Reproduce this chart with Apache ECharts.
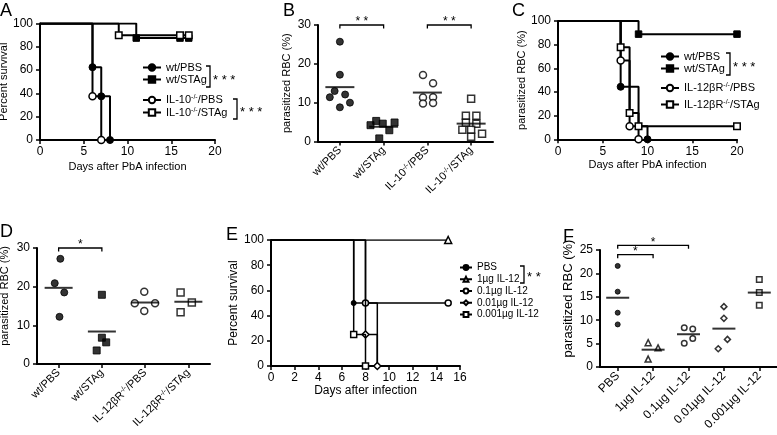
<!DOCTYPE html>
<html><head><meta charset="utf-8">
<script src="https://cdn.jsdelivr.net/npm/echarts@6/dist/echarts.min.js"></script>
<style>html,body{margin:0;padding:0;background:#fff}#c{width:777px;height:435px}</style>
</head><body><div id="c"></div>
<script>
// ===== DATA =====
// Panel A: survival (days / percent)
const aNames = ['wt/PBS', 'wt/STAg', 'IL-10-/-/PBS', 'IL-10-/-/STAg'];
const aDays = [[0, 6, 7, 8], [0, 11, 16, 17], [0, 6, 7], [0, 9, 16, 17]];
const aSurv = [[100, 62.5, 37.5, 0], [100, 87.5, 87.5, 87.5], [100, 37.5, 0], [100, 90, 90, 90]];
const aTicksX = [0, 20, 5];
// Panel B: parasitized RBC (%)
const bCats = ['wt/PBS', 'wt/STAg', 'IL-10-/-/PBS', 'IL-10-/-/STAg'];
const bVals = [
  [25.7, 17.2, 13.0, 12.1, 11.4, 10.0, 8.8],
  [5.3, 4.2, 4.6, 2.9, 4.9, 0.8],
  [17.1, 15.0, 11.3, 11.4, 9.8, 9.9],
  [11.0, 6.6, 6.6, 4.8, 4.6, 3.0, 3.0, 2.0, 1.2]
];
const bMeans = [14.0, 3.8, 12.6, 4.6];
const bJitter = [
  [0, 0, -0.12, 0.12, -0.23, 0.23, 0],
  [-0.17, -0.3, -0.02, 0.13, 0.25, -0.1],
  [-0.1, 0.13, -0.1, 0.13, -0.1, 0.13],
  [0, -0.12, 0.12, -0.12, 0.12, -0.2, 0, 0.25, 0]
];
const bBrackets = [[0, 1, 30, '* *'], [2, 3, 30, '* *']];
// Panel C
const cNames = ['wt/PBS', 'wt/STAg', 'IL-12βR-/-/PBS', 'IL-12βR-/-/STAg'];
const cDays = [[0, 7, 9, 10], [0, 9, 20], [0, 7, 8, 9], [0, 7, 8, 9, 20]];
const cVals = [[100, 44.4, 11.1, 0], [100, 88.9, 88.9], [100, 66.7, 11.1, 0], [100, 77.8, 22.2, 11.1, 11.1]];
// Panel D
const dCats = ['wt/PBS', 'wt/STAg', 'IL-12βR-/-/PBS', 'IL-12βR-/-/STAg'];
const dVals = [[27.2, 20.9, 18.5, 12.2], [17.9, 6.8, 5.6, 3.5], [18.7, 15.7, 15.7, 13.7], [18.5, 15.9, 13.4]];
const dMeans = [19.7, 8.4, 15.9, 16.1];
const dJitter = [[0.04, -0.09, 0.13, 0.02], [0, 0, 0.1, -0.12], [-0.02, -0.24, 0.23, -0.02], [-0.18, 0.08, -0.18]];
const dBrackets = [[0, 1, 30, '*']];
// Panel E
const eNames = ['PBS', '1µg IL-12', '0.1µg IL-12', '0.01µg IL-12', '0.001µg IL-12'];
const eDays = [[0, 7, 9], [0, 15], [0, 8, 15], [0, 8, 9], [0, 7, 8]];
const eVals = [[100, 50, 0], [100, 100], [100, 50, 50], [100, 25, 0], [100, 25, 0]];
// Panel F
const fCats = ['PBS', '1µg IL-12', '0.1µg IL-12', '0.01µg IL-12', '0.001µg IL-12'];
const fVals = [[21.6, 16.1, 11.6, 9.1], [5.2, 4.1, 1.7], [8.4, 8.1, 5.1, 6.1], [12.9, 10.4, 5.9, 3.9], [18.7, 15.9, 13.2]];
const fMeans = [14.8, 3.7, 7.0, 8.2, 15.9];
const fJitter = [[0, 0, 0, 0], [-0.14, 0.14, -0.14], [-0.12, 0.12, -0.12, 0.12], [0, 0, 0.1, -0.16], [0, 0, 0]];
const fBrackets = [[0, 1, 24, '*'], [0, 2, 26, '*']];

// ===== STYLE / HELPERS =====
const FONT = 'Liberation Sans, Arial, Helvetica, sans-serif';
const BLK = '#000';
function rt(s) {
  const parts = s.split('-/-');
  let out = '{t|' + parts[0] + '}';
  for (let i = 1; i < parts.length; i++) out += '{s|-/-}' + (parts[i] ? '{t|' + parts[i] + '}' : '');
  return out;
}
function rich(fs) {
  return {
    t: { fontSize: fs, fontFamily: FONT, color: BLK, lineHeight: fs + 1 },
    s: { fontSize: Math.round(fs * 0.62), fontFamily: FONT, color: BLK, lineHeight: Math.round(fs * 0.7), verticalAlign: 'top' }
  };
}
const axLine = { show: true, onZero: false, lineStyle: { color: BLK, width: 2 } };
const axTick = { show: true, length: 4, lineStyle: { color: BLK, width: 1.5 } };
function valX(grid, min, max, interval, name, gap, fs, nfs) {
  return {
    type: 'value', gridIndex: grid, min: min, max: max, interval: interval,
    axisLine: axLine, axisTick: axTick, splitLine: { show: false },
    axisLabel: { color: BLK, fontFamily: FONT, fontSize: fs, margin: 6 },
    name: name, nameLocation: 'middle', nameGap: gap,
    nameTextStyle: { color: BLK, fontFamily: FONT, fontSize: nfs || fs }
  };
}
function valY(grid, min, max, interval, name, gap, fs, nfs, pad) {
  return {
    type: 'value', gridIndex: grid, min: min, max: max, interval: interval,
    axisLine: axLine, axisTick: axTick, splitLine: { show: false },
    axisLabel: { color: BLK, fontFamily: FONT, fontSize: fs, margin: 7 },
    name: name, nameLocation: 'middle', nameGap: gap, nameRotate: 90,
    nameTextStyle: { color: BLK, fontFamily: FONT, fontSize: nfs || fs, padding: [0, 0, 0, pad || 0] }
  };
}
function catX(grid, cats, fs) {
  return {
    type: 'category', gridIndex: grid, data: cats, boundaryGap: true,
    axisLine: axLine, axisTick: Object.assign({ alignWithLabel: true, interval: 0 }, axTick),
    axisLabel: { interval: 0, rotate: 45, margin: 7, formatter: v => rt(v), rich: rich(fs) }
  };
}
function hidX(grid, n) { return { type: 'value', gridIndex: grid, min: -0.5, max: n - 0.5, show: false }; }

const openStyle = { color: '#fff', borderColor: BLK, borderWidth: 1.5 };
const fillStyle = { color: BLK, borderColor: BLK, borderWidth: 1 };

function survSeries(prefix, names, days, vals, xi, yi, syms, opens, size, lw) {
  return names.map((n, k) => ({
    type: 'line', name: prefix + n, xAxisIndex: xi, yAxisIndex: yi, step: 'end',
    symbol: syms[k], symbolSize: size[k], showSymbol: true, z: 2 + k,
    lineStyle: { color: BLK, width: lw }, itemStyle: opens[k] ? openStyle : fillStyle,
    data: days[k].map((d, i) => i === 0 ? { value: [d, vals[k][i]], symbol: 'none' } : { value: [d, vals[k][i]] })
  }));
}
function dotSeries(vals, jit, xi, yi, syms, opens, size) {
  return vals.map((arr, g) => ({
    type: 'scatter', xAxisIndex: xi, yAxisIndex: yi, symbol: syms[g], symbolSize: size[g], z: 3,
    itemStyle: opens[g] ? openStyle : fillStyle,
    data: arr.map((v, k) => [g + jit[g][k], v])
  }));
}
function meanSeries(means, xi, yi, w) {
  return {
    type: 'scatter', xAxisIndex: xi, yAxisIndex: yi, symbol: 'rect', symbolSize: [w, 2], z: 4,
    itemStyle: { color: BLK }, data: means.map((m, g) => [g, m])
  };
}
function bracketSeries(list, xi, yi) {
  return {
    type: 'custom', xAxisIndex: xi, yAxisIndex: yi, clip: false, silent: true, z: 6,
    encode: { x: [0, 1], y: 2 },
    data: list.map(b => [b[0], b[1], b[2]]),
    renderItem: function (params, api) {
      const a = api.coord([api.value(0), api.value(2)]);
      const b = api.coord([api.value(1), api.value(2)]);
      return {
        type: 'group', children: [
          { type: 'polyline', shape: { points: [[a[0], a[1] + 3.5], [a[0], a[1]], [b[0], b[1]], [b[0], b[1] + 3.5]] },
            style: { stroke: BLK, lineWidth: 1.3, fill: null } },
          { type: 'text', x: (a[0] + b[0]) / 2, y: a[1] + 3, style: { text: list[params.dataIndex][3], align: 'center', verticalAlign: 'bottom', font: '12px ' + FONT, fill: BLK } }
        ]
      };
    }
  };
}
function legend(prefix, names, left, top, gap, fs, iw, ih) {
  return {
    orient: 'vertical', left: left, top: top, padding: 0, itemGap: gap, itemWidth: iw, itemHeight: ih,
    selectedMode: false, data: names.map(n => prefix + n),
    formatter: n => rt(n.slice(2)),
    textStyle: { fontFamily: FONT, fontSize: fs, color: BLK, rich: rich(fs) }
  };
}
function brk(x, y1, y2, tx, ty, txt) {
  return [
    { type: 'polyline', shape: { points: [[x - 4, y1], [x, y1], [x, y2], [x - 4, y2]] }, style: { stroke: BLK, lineWidth: 1.3, fill: null } },
    { type: 'text', x: tx, y: ty, style: { text: txt, font: '13px ' + FONT, fill: BLK, verticalAlign: 'middle' } }
  ];
}

const option = {
  animation: false,
  backgroundColor: '#fff',
  title: [
    { text: 'A', left: 0, top: 2 }, { text: 'B', left: 283, top: 2 }, { text: 'C', left: 512, top: 2 },
    { text: 'D', left: 0, top: 223 }, { text: 'E', left: 226, top: 226 }, { text: 'F', left: 563, top: 228 }
  ].map(t => Object.assign(t, { padding: 0, textStyle: { fontFamily: FONT, fontSize: 18, fontWeight: 'normal', color: BLK } })),
  grid: [
    { left: 40, top: 23.5, width: 175, height: 116.5 },
    { left: 318, top: 25, width: 175, height: 116.5 },
    { left: 558, top: 21, width: 179, height: 118.3 },
    { left: 37, top: 248, width: 173, height: 116 },
    { left: 271, top: 240, width: 189, height: 126 },
    { left: 600, top: 250, width: 177, height: 117 }
  ].map(g => Object.assign(g, { containLabel: false, outerBoundsMode: 'none' })),
  xAxis: [
    valX(0, aTicksX[0], aTicksX[1], aTicksX[2], 'Days after PbA infection', 21, 12, 11),
    catX(1, bCats, 11), hidX(1, bCats.length),
    valX(2, 0, 20, 5, 'Days after PbA infection', 20, 12, 11),
    catX(3, dCats, 11), hidX(3, dCats.length),
    valX(4, 0, 16, 2, 'Days after infection', 17, 12),
    catX(5, fCats, 12), hidX(5, fCats.length)
  ],
  yAxis: [
    valY(0, 0, 100, 20, 'Percent survival', 27, 12, 11),
    valY(1, 0, 30, 10, 'parasitized RBC (%)', 26, 12, 11),
    valY(2, 0, 100, 20, 'parasitized RBC (%)', 31, 12, 11),
    valY(3, 0, 30, 10, 'parasitized RBC (%)', 27, 12, 11, 20),
    valY(4, 0, 100, 20, 'Percent survival', 28, 12, 12),
    valY(5, 0, 25, 5, 'parasitized RBC (%)', 25, 12, 13, 20)
  ],
  legend: [
    legend('A:', aNames.slice(0, 2), 142, 62, 1, 11, 18, 8),
    legend('A:', aNames.slice(2), 142, 94, 1, 11, 18, 8),
    legend('C:', cNames.slice(0, 2), 660, 51, 1, 11, 18, 8),
    legend('C:', cNames.slice(2), 660, 82, 5, 11, 18, 8),
    legend('E:', eNames, 459, 262.5, 1.75, 10, 12, 6)
  ],
  graphic: [].concat(
    brk(210, 66, 87, 213, 80, '* * *'),
    brk(237, 99, 119, 240, 112, '* * *'),
    brk(730, 53, 75, 733, 67, '* * *'),
    brk(524, 266, 283, 527, 277, '* *')
  ),
  series: [].concat(
    survSeries('A:', aNames, aDays, aSurv, 0, 0, ['circle', 'rect', 'circle', 'rect'], [false, false, true, true], [7, 6.5, 7, 6.5], 2),
    dotSeries(bVals, bJitter, 2, 1, ['circle', 'rect', 'circle', 'rect'], [false, false, true, true], [7, 7, 7, 7]),
    [meanSeries(bMeans, 2, 1, 29), bracketSeries(bBrackets, 2, 1)],
    survSeries('C:', cNames, cDays, cVals, 3, 2, ['circle', 'rect', 'circle', 'rect'], [false, false, true, true], [7, 6.5, 7, 6.5], 2),
    dotSeries(dVals, dJitter, 5, 3, ['circle', 'rect', 'circle', 'rect'], [false, false, true, true], [7, 7, 7, 7]),
    [meanSeries(dMeans, 5, 3, 28), bracketSeries(dBrackets, 5, 3)],
    survSeries('E:', eNames, eDays, eVals, 6, 4, ['circle', 'triangle', 'circle', 'diamond', 'rect'], [false, true, true, true, true], [5, 7, 6, 7, 6], 1.5),
    dotSeries(fVals, fJitter, 8, 5, ['circle', 'triangle', 'circle', 'diamond', 'rect'], [false, true, true, true, true], [5, 6, 5.5, 6, 5.5]),
    [meanSeries(fMeans, 8, 5, 23), bracketSeries(fBrackets, 8, 5)]
  )
};
const chart = echarts.init(document.getElementById('c'), null, { renderer: 'canvas' });
chart.setOption(option);
</script></body></html>
